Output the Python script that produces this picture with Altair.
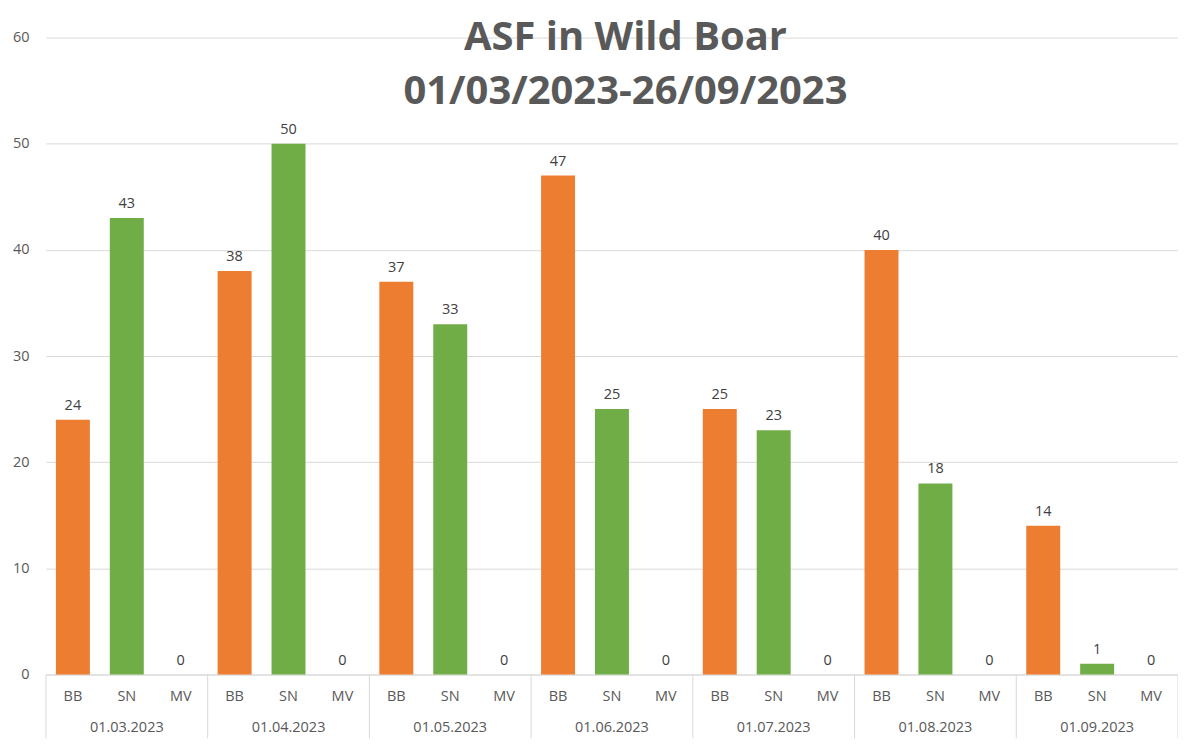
import altair as alt
import pandas as pd

months = ["01.03.2023", "01.04.2023", "01.05.2023", "01.06.2023",
          "01.07.2023", "01.08.2023", "01.09.2023"]
subs = ["BB", "SN", "MV"]
bb = [24, 38, 37, 47, 25, 40, 14]
sn = [43, 50, 33, 25, 23, 18, 1]
mv = [0, 0, 0, 0, 0, 0, 0]
title_lines = ["ASF in Wild Boar", "01/03/2023-26/09/2023"]

rows = []
for i, m in enumerate(months):
    for s, vals in zip(subs, [bb, sn, mv]):
        rows.append({"month": m, "sub": s, "value": vals[i]})
df = pd.DataFrame(rows)
mdf = pd.DataFrame({"month": months})
last_df = pd.DataFrame({"month": [months[-1]]})
tdf = pd.DataFrame({"t": title_lines, "line": [0, 1]})

FONT = "Open Sans"
GRID = "#D9D9D9"
LBL = "#595959"
W, H = 1134, 638

xm = alt.X("month:N", sort=months,
           scale=alt.Scale(domain=months, paddingInner=0, paddingOuter=0),
           axis=alt.Axis(labels=False, ticks=False, title=None, domain=True,
                         domainColor=GRID, domainWidth=1, grid=False))
xo = alt.XOffset("sub:N", sort=subs,
                 scale=alt.Scale(domain=subs, paddingInner=0.37, paddingOuter=0.185))
ys = alt.Y("value:Q",
           scale=alt.Scale(domain=[0, 60], nice=False),
           axis=alt.Axis(values=[0, 10, 20, 30, 40, 50, 60], title=None,
                         domain=False, ticks=False, grid=True, gridColor=GRID,
                         labelFont=FONT, labelFontSize=14.5, labelColor=LBL,
                         labelPadding=17))

bars = alt.Chart(df).mark_bar().encode(
    x=xm, xOffset=xo, y=ys,
    color=alt.Color("sub:N", scale=alt.Scale(domain=subs,
                    range=["#ED7D31", "#70AD47", "#A5A5A5"]), legend=None),
)

labels = alt.Chart(df).mark_text(font=FONT, fontSize=14.5, color="#404040",
                                 baseline="alphabetic", dy=-10).encode(
    x=xm, xOffset=xo, y="value:Q", text="value:Q")

sub_labels = alt.Chart(df).mark_text(font=FONT, fontSize=14.5, color=LBL,
                                     baseline="middle").encode(
    x=xm, xOffset=xo, y=alt.value(H + 23), text="sub:N")

month_labels = alt.Chart(mdf).mark_text(font=FONT, fontSize=14.5, color=LBL,
                                        baseline="middle").encode(
    x=alt.X("month:N", sort=months, bandPosition=0.5), y=alt.value(H + 54),
    text="month:N")

seps = alt.Chart(mdf).mark_rule(color=GRID, strokeWidth=1).encode(
    x=alt.X("month:N", sort=months, bandPosition=0),
    y=alt.value(H), y2=alt.value(H + 64))

sep_last = alt.Chart(last_df).mark_rule(color=GRID, strokeWidth=1).encode(
    x=alt.X("month:N", sort=months, bandPosition=1),
    y=alt.value(H), y2=alt.value(H + 64))

title1 = alt.Chart(tdf).transform_filter("datum.line == 0").mark_text(
    font=FONT, fontSize=40, fontWeight="bold", color=LBL,
    baseline="alphabetic", align="center").encode(
    x=alt.value(580.5), y=alt.value(12), text="t:N")
title2 = alt.Chart(tdf).transform_filter("datum.line == 1").mark_text(
    font=FONT, fontSize=40, fontWeight="bold", color=LBL,
    baseline="alphabetic", align="center").encode(
    x=alt.value(580.5), y=alt.value(67), text="t:N")

chart = alt.layer(bars, labels, sub_labels, month_labels, seps, sep_last,
                  title1, title2).properties(
    width=W, height=H,
    background="white",
    autosize=alt.AutoSizeParams(type="none"),
    padding={"left": 38, "top": 29, "right": 0, "bottom": 64},
).configure_view(strokeWidth=0, stroke="transparent")

chart.save("out.html", embed_options={"renderer": "svg", "actions": False})
